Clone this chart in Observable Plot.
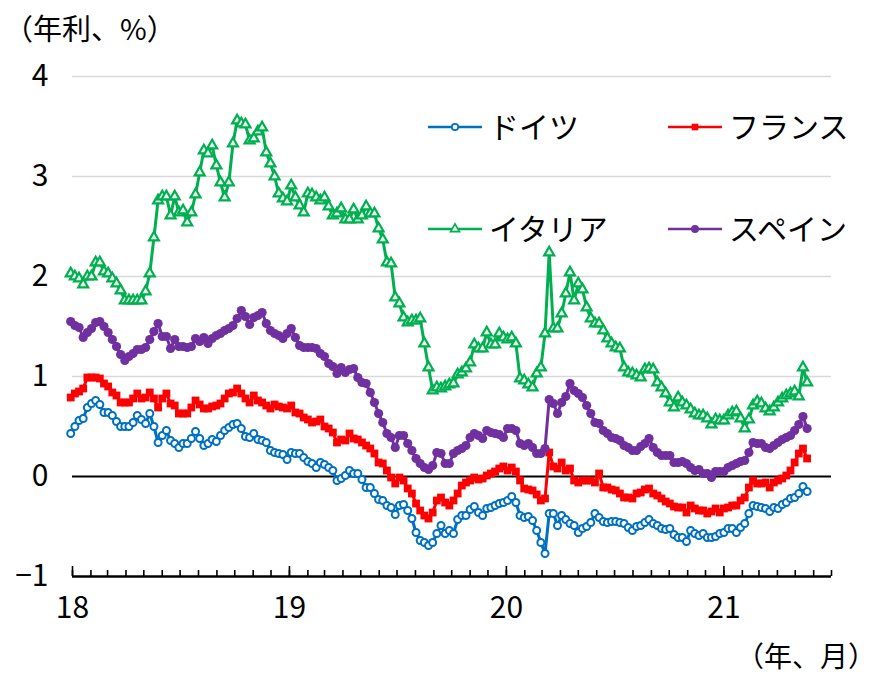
<!DOCTYPE html>
<html><head><meta charset="utf-8">
<script src="https://cdn.jsdelivr.net/npm/d3@7"></script>
<script src="https://cdn.jsdelivr.net/npm/@observablehq/plot@0.6"></script>
<style>
body{margin:0;background:#fff;}
#wrap{position:relative;width:887px;height:679px;}
</style></head><body><div id="wrap"></div>
<script>
// weekly observations starting at this date
const startDate = "2017-12-29";
const germany = [0.43,0.50,0.56,0.58,0.69,0.73,0.76,0.72,0.64,0.64,0.61,0.55,0.50,0.50,0.50,0.54,0.61,0.57,0.53,0.63,0.50,0.34,0.41,0.46,0.36,0.33,0.29,0.33,0.33,0.38,0.45,0.38,0.31,0.33,0.37,0.35,0.41,0.46,0.49,0.52,0.53,0.48,0.40,0.39,0.43,0.37,
0.36,0.34,0.26,0.24,0.23,0.22,0.17,0.24,0.23,0.23,0.19,0.15,0.13,0.09,0.14,0.12,0.09,0.06,-0.04,-0.02,0.01,0.06,0.03,0.03,-0.03,-0.11,-0.11,-0.17,-0.23,-0.24,-0.29,-0.31,-0.38,-0.29,-0.28,-0.34,-0.42,-0.56,-0.64,-0.66,-0.69,-0.66,-0.57,-0.49,-0.57,-0.54,
-0.57,-0.43,-0.39,-0.39,-0.33,-0.30,-0.36,-0.39,-0.32,-0.31,-0.29,-0.27,-0.26,-0.24,-0.20,-0.26,-0.39,-0.41,-0.40,-0.44,-0.54,-0.66,-0.77,-0.37,-0.37,-0.49,-0.39,-0.43,-0.47,-0.49,-0.56,-0.52,-0.50,-0.46,-0.37,-0.41,-0.45,-0.46,-0.45,-0.45,-0.46,-0.47,-0.51,-0.54,
-0.50,-0.49,-0.46,-0.43,-0.47,-0.49,-0.52,-0.53,-0.52,-0.58,-0.61,-0.61,-0.65,-0.54,-0.57,-0.59,-0.57,-0.61,-0.61,-0.60,-0.57,-0.56,-0.52,-0.52,-0.56,-0.51,-0.47,-0.37,-0.29,-0.30,-0.31,-0.32,-0.35,-0.31,-0.32,-0.28,-0.26,-0.22,-0.21,-0.17,-0.10,-0.15];
const france = [0.79,0.83,0.85,0.88,0.99,0.99,0.99,0.98,0.93,0.90,0.84,0.81,0.74,0.74,0.74,0.78,0.83,0.78,0.79,0.84,0.78,0.69,0.78,0.83,0.73,0.71,0.63,0.63,0.63,0.69,0.76,0.72,0.68,0.68,0.70,0.71,0.73,0.78,0.83,0.84,0.88,0.83,0.78,0.74,0.81,0.76,
0.74,0.71,0.68,0.72,0.70,0.69,0.68,0.71,0.64,0.63,0.59,0.57,0.54,0.55,0.57,0.50,0.48,0.44,0.34,0.37,0.36,0.43,0.38,0.37,0.34,0.31,0.28,0.23,0.14,0.13,0.06,-0.01,-0.07,-0.01,-0.04,-0.12,-0.17,-0.27,-0.34,-0.39,-0.42,-0.36,-0.24,-0.21,-0.26,-0.29,
-0.24,-0.17,-0.09,-0.06,-0.04,-0.01,-0.03,-0.02,0.01,0.03,0.05,0.08,0.10,0.06,0.09,0.05,-0.04,-0.12,-0.13,-0.14,-0.18,-0.24,-0.22,0.24,0.10,0.08,0.14,0.06,0.08,-0.04,-0.06,-0.04,-0.04,-0.04,-0.06,0.03,-0.11,-0.11,-0.13,-0.14,-0.17,-0.21,-0.21,-0.22,
-0.17,-0.16,-0.13,-0.12,-0.17,-0.19,-0.22,-0.25,-0.27,-0.30,-0.31,-0.31,-0.36,-0.29,-0.32,-0.34,-0.34,-0.37,-0.35,-0.32,-0.36,-0.32,-0.31,-0.29,-0.29,-0.24,-0.21,-0.11,-0.04,-0.07,-0.07,-0.06,-0.11,-0.06,-0.04,-0.02,0.01,0.06,0.14,0.23,0.28,0.18];
const italy = [2.03,2.00,1.98,1.92,2.00,2.00,2.14,2.14,2.05,2.03,1.98,1.93,1.86,1.76,1.76,1.76,1.76,1.76,1.85,2.03,2.39,2.76,2.80,2.80,2.61,2.80,2.64,2.66,2.54,2.64,2.82,3.04,3.26,3.23,3.31,3.11,2.94,2.79,2.94,3.33,3.56,3.53,3.52,3.36,3.38,3.45,
3.49,3.24,3.13,3.00,2.83,2.78,2.75,2.91,2.79,2.71,2.64,2.83,2.82,2.79,2.76,2.79,2.70,2.61,2.63,2.68,2.57,2.57,2.67,2.57,2.61,2.70,2.63,2.63,2.48,2.37,2.14,2.13,1.79,1.73,1.59,1.54,1.56,1.56,1.58,1.33,1.09,0.86,0.89,0.88,0.90,0.92,
0.93,1.02,1.04,1.08,1.14,1.32,1.28,1.28,1.44,1.32,1.32,1.43,1.39,1.37,1.39,1.33,0.98,0.96,0.92,0.89,1.03,1.09,1.43,2.24,1.48,1.48,1.63,1.83,2.04,1.76,1.93,1.87,1.69,1.58,1.53,1.53,1.46,1.38,1.33,1.29,1.28,1.09,1.04,1.03,
1.01,0.99,1.07,1.08,1.07,0.94,0.89,0.83,0.74,0.69,0.79,0.74,0.71,0.67,0.63,0.61,0.61,0.58,0.52,0.57,0.56,0.56,0.61,0.64,0.65,0.58,0.48,0.57,0.71,0.75,0.73,0.68,0.65,0.69,0.74,0.78,0.81,0.83,0.85,0.80,1.09,0.94];
const spain = [1.55,1.51,1.49,1.39,1.44,1.48,1.54,1.55,1.50,1.44,1.37,1.30,1.22,1.16,1.20,1.23,1.27,1.27,1.29,1.37,1.45,1.53,1.40,1.40,1.28,1.37,1.30,1.30,1.29,1.30,1.38,1.35,1.39,1.33,1.38,1.41,1.43,1.46,1.48,1.51,1.58,1.66,1.60,1.52,1.59,1.61,
1.64,1.53,1.46,1.43,1.41,1.38,1.43,1.48,1.39,1.31,1.29,1.29,1.29,1.28,1.23,1.20,1.13,1.10,1.03,1.09,1.04,1.07,1.08,0.99,0.94,0.93,0.84,0.74,0.63,0.54,0.43,0.39,0.29,0.41,0.41,0.33,0.26,0.18,0.13,0.09,0.07,0.11,0.24,0.23,0.13,0.13,
0.23,0.26,0.28,0.31,0.39,0.43,0.41,0.38,0.46,0.44,0.43,0.42,0.39,0.48,0.48,0.46,0.33,0.31,0.33,0.29,0.23,0.23,0.28,0.77,0.73,0.63,0.74,0.80,0.93,0.86,0.83,0.79,0.71,0.63,0.54,0.53,0.46,0.43,0.39,0.38,0.36,0.31,0.29,0.26,
0.26,0.30,0.33,0.38,0.29,0.24,0.21,0.21,0.21,0.14,0.14,0.15,0.13,0.09,0.06,0.07,0.03,0.03,-0.01,0.05,0.05,0.05,0.09,0.11,0.13,0.15,0.16,0.24,0.34,0.33,0.33,0.29,0.28,0.31,0.34,0.37,0.39,0.41,0.46,0.52,0.60,0.48];

const seriesNames = ["ドイツ", "フランス", "イタリア", "スペイン"];
const seriesColors = ["#0070C0", "#FF0000", "#00B050", "#7030A0"];
const yTicks = [-1, 0, 1, 2, 3, 4];
const gridTicks = [1, 2, 3, 4];
const yearTicks = ["2018-01-01", "2019-01-01", "2020-01-01", "2021-01-01"];
const yearLabels = ["18", "19", "20", "21"];
const xDomain = ["2018-01-01", "2021-07-01"];
const yLabel = "（年利、%）";
const xLabel = "（年、月）";

const start = new Date(startDate + "T00:00:00Z");
const allSeries = [germany, france, italy, spain];
const rows = [];
allSeries.forEach((arr, k) => arr.forEach((v, i) => rows.push({date: d3.utcDay.offset(start, 7 * i), value: v, series: seriesNames[k]})));
const bySeries = name => rows.filter(r => r.series === name);

const xd = xDomain.map(d => new Date(d + "T00:00:00Z"));
const months = d3.utcMonth.range(xd[0], d3.utcDay.offset(xd[1], 1));
const years = yearTicks.map(d => new Date(d + "T00:00:00Z"));
const yearLabelMap = new Map(years.map((d, i) => [+d, yearLabels[i]]));

const numFont = "'Liberation Sans Narrow', 'Noto Sans CJK JP', sans-serif";
const jpFont = "'Noto Sans CJK JP', sans-serif";

const chart = Plot.plot({
  width: 887, height: 679,
  marginLeft: 72, marginRight: 56, marginTop: 76, marginBottom: 103,
  style: {fontFamily: numFont, fontSize: "30px", color: "#000", background: "#fff", overflow: "visible"},
  x: {type: "utc", domain: xd},
  y: {domain: [-1, 4]},
  color: {domain: seriesNames, range: seriesColors},
  marks: [
    Plot.gridY(gridTicks, {stroke: "#d9d9d9", strokeOpacity: 1, strokeWidth: 1.5}),
    Plot.axisY(yTicks, {tickSize: 0, tickPadding: 24, label: null, fontSize: 30,
      tickFormat: d => d < 0 ? "\u2212" + Math.abs(d) : String(d)}),
    Plot.ruleY([0], {stroke: "#000", strokeWidth: 2}),
    Plot.ruleY([-1], {stroke: "#000", strokeWidth: 2.5}),
    Plot.axisX(months, {tickSize: -6, tickFormat: () => "", label: null, strokeWidth: 1.6}),
    Plot.axisX(years, {tickSize: -10, tickFormat: () => "", label: null, strokeWidth: 1.6}),
    Plot.axisX(years, {tickSize: 0, tickPadding: 20, label: null, fontSize: 30,
      tickFormat: d => yearLabelMap.get(+d)}),
    // ドイツ
    Plot.line(bySeries(seriesNames[0]), {x: "date", y: "value", stroke: "series", strokeWidth: 3}),
    Plot.dot(bySeries(seriesNames[0]), {x: "date", y: "value", r: 3.5, stroke: "series", fill: "white", strokeWidth: 2}),
    // フランス
    Plot.line(bySeries(seriesNames[1]), {x: "date", y: "value", stroke: "series", strokeWidth: 3}),
    Plot.dot(bySeries(seriesNames[1]), {x: "date", y: "value", symbol: "square", r: 4.4, fill: "series"}),
    // イタリア
    Plot.line(bySeries(seriesNames[2]), {x: "date", y: "value", stroke: "series", strokeWidth: 3}),
    Plot.dot(bySeries(seriesNames[2]), {x: "date", y: "value", symbol: "triangle", r: 3.7, stroke: "series", fill: "#e9f8ee", strokeWidth: 2.2}),
    // スペイン
    Plot.line(bySeries(seriesNames[3]), {x: "date", y: "value", stroke: "series", strokeWidth: 3}),
    Plot.dot(bySeries(seriesNames[3]), {x: "date", y: "value", r: 4.6, fill: "series"})
  ]
});
document.getElementById("wrap").appendChild(chart);

// titles and legend (layout only)
const svg = d3.select(chart);
svg.append("text").attr("x", 4).attr("y", 40).attr("text-anchor", "start").attr("font-family", jpFont).attr("font-size", 29).attr("fill", "#000").text(yLabel);
svg.append("text").attr("x", 876).attr("y", 667).attr("text-anchor", "end").attr("font-family", jpFont).attr("font-size", 28).attr("fill", "#000").text(xLabel);

const legPos = [[428, 127], [668, 127], [428, 229], [668, 229]];
const symbols = [d3.symbolCircle, d3.symbolSquare, d3.symbolTriangle, d3.symbolCircle];
const sizes = [Math.PI * 3.2 * 3.2, Math.PI * 14, Math.PI * 3.3 * 3.3, Math.PI * 4 * 4];
const fills = ["white", seriesColors[1], "#e9f8ee", seriesColors[3]];
const strokes = [seriesColors[0], "none", seriesColors[2], "none"];
seriesNames.forEach((name, k) => {
  const [lx, ly] = legPos[k];
  const g = svg.append("g");
  g.append("line").attr("x1", lx).attr("x2", lx + 54).attr("y1", ly).attr("y2", ly).attr("stroke", seriesColors[k]).attr("stroke-width", 2.5);
  g.append("path").attr("transform", `translate(${lx + 27},${ly})`).attr("d", d3.symbol(symbols[k], sizes[k])())
    .attr("fill", fills[k]).attr("stroke", strokes[k]).attr("stroke-width", 1.7);
  g.append("text").attr("x", lx + 61).attr("y", ly).attr("dy", "0.36em").attr("text-anchor", "start")
    .attr("font-family", jpFont).attr("font-size", 30).attr("fill", "#000").text(name);
});
</script>
</body></html>
